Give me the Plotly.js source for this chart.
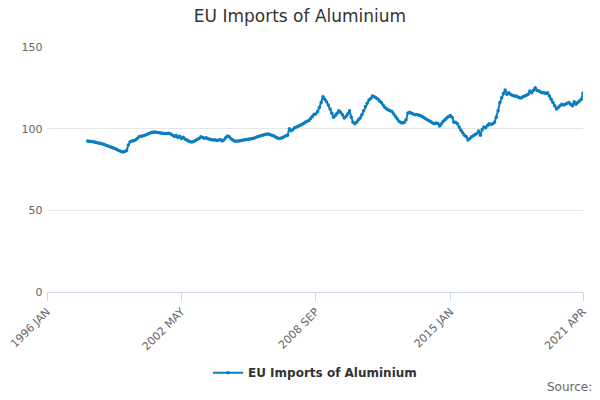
<!DOCTYPE html>
<html>
<head>
<meta charset="utf-8">
<script src="https://cdn.plot.ly/plotly-3.0.1.min.js"></script>
<style>html,body{margin:0;padding:0;background:#fff}#chart{width:600px;height:400px}</style>
</head>
<body>
<div id="chart"></div>
<script>
// monthly index values, 1997 DEC .. 2021 APR
var values = [
  92.5,
  92.3, 92.2, 92, 91.8, 91.5, 91.2, 91, 90.8, 90.4, 90, 89.6, 89.2,
  88.8, 88.3, 88, 87.6, 87, 86.5, 86, 85.7, 86, 86.6, 90, 92,
  92.5, 92.6, 93, 94, 95, 95.3, 95.5, 95.8, 96.2, 96.8, 97.2, 97.6,
  97.8, 98, 97.8, 97.6, 97.4, 97.2, 97, 97, 97, 97.2, 96.8, 96,
  95.2, 95.8, 94.6, 95.3, 94, 94.8, 93.6, 93, 92.4, 92, 91.8, 92.2,
  92.8, 93.5, 94, 95, 94.6, 94.2, 94.4, 93.8, 93.5, 93.2, 93, 93.2,
  92.8, 93, 93.2, 92.5, 93, 94.5, 95.5, 95, 93.8, 93, 92.5, 92.3,
  92.5, 92.6, 92.8, 93, 93.2, 93.4, 93.5, 93.6, 94, 94.2, 94.6, 95,
  95.4, 95.8, 96, 96.4, 96.6, 96.8, 96.4, 96, 95.6, 95, 94.4, 94,
  94.2, 94.5, 95, 95.6, 96, 100, 98.8, 99.5, 100.5, 101, 101.5, 102,
  102.6, 103.2, 104, 104.6, 105, 106.2, 107.5, 108.8, 109, 110.5, 113, 116,
  119.5, 118, 116.5, 114.5, 112, 109.5, 107, 108, 109.5, 111, 110, 108.5,
  106.5, 107.5, 109, 111, 107, 104, 103, 104, 105.5, 106.5, 108.5, 111,
  113.5, 115.5, 117.5, 118.5, 120, 119.5, 119, 118.2, 117, 116, 114.5, 113,
  112, 111.5, 111, 110.5, 109, 107.5, 106, 104.5, 103.8, 103.5, 104, 105.5,
  109.6, 110, 109.5, 109, 108.5, 108.6, 108.3, 108, 107.4, 106.8, 106, 105.5,
  104.8, 104.2, 103.5, 103, 103.5, 103.2, 101.6, 103, 104.5, 105.5, 106.5, 107.5,
  108, 107, 104, 104, 103, 101, 99, 97.5, 96, 95, 93, 94,
  95, 95.6, 96.4, 97, 98.6, 96, 99.5, 101, 100.5, 102, 103, 102.5,
  103, 104, 107, 111, 116, 119, 121.5, 123.7, 121, 122, 121, 120.5,
  120, 120, 119.5, 119, 118.8, 119.5, 120, 120.5, 121, 123, 122, 123.5,
  125, 123.5, 123, 122.5, 122, 122, 121.5, 122, 120, 118, 116, 114,
  112, 113, 114, 115, 114.5, 115, 115.5, 116, 115, 114, 116.5, 115,
  116, 117, 118, 121.8
];
var monthNames = ["JAN","FEB","MAR","APR","MAY","JUN","JUL","AUG","SEP","OCT","NOV","DEC"];
var tickLabels = ["1996 JAN", "2002 MAY", "2008 SEP", "2015 JAN", "2021 APR"];

var months = [];
for (var y = 1996; y <= 2021; y++) {
  for (var m = 0; m < 12; m++) {
    if (y === 2021 && m > 3) break;
    months.push(y + " " + monthNames[m]);
  }
}
var padded = [];
var lead = months.length - values.length;
for (var i = 0; i < lead; i++) padded.push(null);
padded = padded.concat(values);

var trace = {
  x: months, y: padded, type: "scatter", mode: "lines+markers",
  name: "EU Imports of Aluminium",
  line: { color: "#0b7dc1", width: 2 },
  marker: { color: "#0b7dc1", size: 3.5 }
};
var layout = {
  width: 600, height: 400,
  margin: { l: 47, r: 17, t: 47, b: 108 },
  font: { family: "DejaVu Sans, sans-serif", color: "#555" },
  title: { text: "EU Imports of Aluminium", x: 0.5, y: 0.975, yanchor: "top",
           font: { size: 17, color: "#333" } },
  xaxis: { type: "category", categoryarray: months, tickmode: "array",
           tickvals: tickLabels, ticktext: tickLabels, tickangle: -45,
           range: [0, months.length - 1], showgrid: false, automargin: false,
           showline: true, linecolor: "#ccd6eb", ticks: "outside",
           ticklen: 8, tickcolor: "#ccd6eb", tickfont: { size: 11, color: "#666" } },
  yaxis: { range: [0, 150], dtick: 50, gridcolor: "#e6e6e6", zeroline: false, automargin: false,
           tickfont: { size: 11, color: "#666" }, ticksuffix: " " },
  showlegend: true,
  legend: { orientation: "h", x: 0.5, xanchor: "center", y: -0.27, yanchor: "top",
            font: { size: 12, color: "#333", weight: "bold" } },
  annotations: [{ text: "Source:", xref: "paper", yref: "paper", x: 1.02, y: -0.35,
                  xanchor: "right", yanchor: "top", showarrow: false,
                  font: { size: 12, color: "#666" } }]
};
Plotly.newPlot("chart", [trace], layout, { displayModeBar: false });
</script>
</body>
</html>
